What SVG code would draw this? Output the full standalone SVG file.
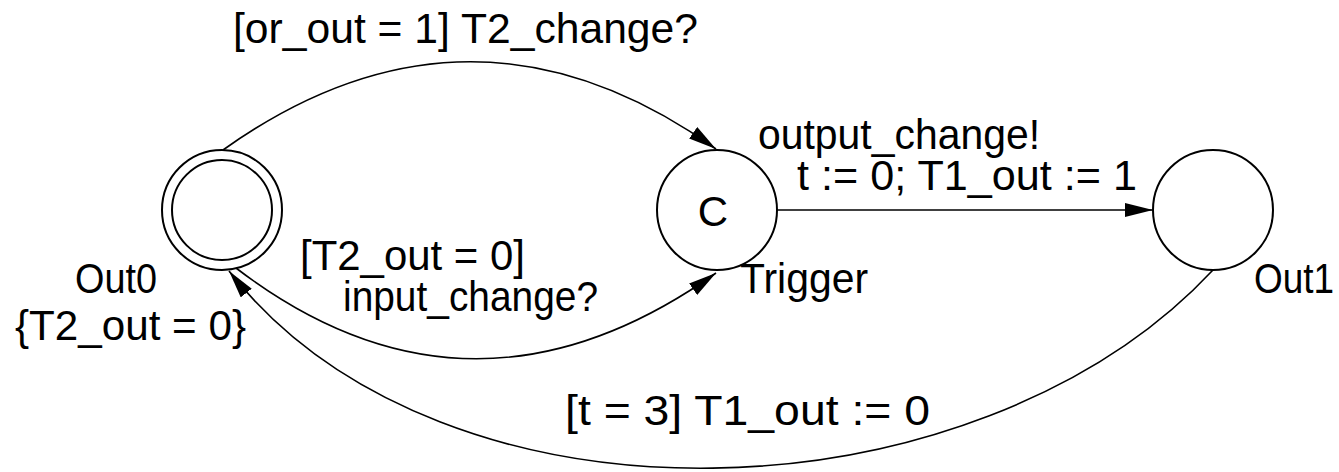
<svg xmlns="http://www.w3.org/2000/svg" width="1339" height="472" viewBox="0 0 1339 472">
<style>
.st{fill:none;stroke:#000;stroke-width:2}
.ed{fill:none;stroke:#000;stroke-width:1.6}
text{font-family:"Liberation Sans",Arial,sans-serif;font-size:42px;fill:#000}
</style>
<defs>
<marker id="ah" markerUnits="userSpaceOnUse" markerWidth="30" markerHeight="16" refX="28" refY="7" orient="auto">
<path d="M0,0 L28,7 L0,14 z" fill="#000"/>
</marker>
</defs>
<rect width="1339" height="472" fill="#fff"/>
<g id="connectors">
<path class="ed" d="M223,150 Q470,-26 716,149" marker-end="url(#ah)"/>
<path class="ed" d="M236,268 Q470,447 716,273" marker-end="url(#ah)"/>
<path class="ed" d="M777,210 L1153,210" marker-end="url(#ah)"/>
<path class="ed" d="M1213,270 C976,524 443,544 229,271" marker-end="url(#ah)"/>
</g>
<g id="Out0">
<circle class="st" cx="222" cy="210" r="60"/>
<circle class="st" cx="222" cy="210" r="50"/>
<text x="75" y="293" textLength="82" lengthAdjust="spacingAndGlyphs">Out0</text>
<text x="15" y="340" textLength="231" lengthAdjust="spacingAndGlyphs">{T2_out = 0}</text>
</g>
<g id="Trigger">
<circle class="st" cx="717" cy="210" r="60"/>
<text x="713" y="226" text-anchor="middle">C</text>
<text x="740" y="293" textLength="128" lengthAdjust="spacingAndGlyphs">Trigger</text>
</g>
<g id="Out1">
<circle class="st" cx="1213" cy="210" r="60"/>
<text x="1254" y="293" textLength="80" lengthAdjust="spacingAndGlyphs">Out1</text>
</g>
<g id="labels">
<text x="233" y="43" textLength="465" lengthAdjust="spacingAndGlyphs">[or_out = 1] T2_change?</text>
<text x="758" y="149" textLength="282" lengthAdjust="spacingAndGlyphs">output_change!</text>
<text x="797" y="190" textLength="340" lengthAdjust="spacingAndGlyphs">t := 0; T1_out := 1</text>
<text x="300" y="270" textLength="225" lengthAdjust="spacingAndGlyphs">[T2_out = 0]</text>
<text x="343" y="311" textLength="255" lengthAdjust="spacingAndGlyphs">input_change?</text>
<text x="565" y="425" textLength="365" lengthAdjust="spacingAndGlyphs">[t = 3]  T1_out := 0</text>
</g>
</svg>
